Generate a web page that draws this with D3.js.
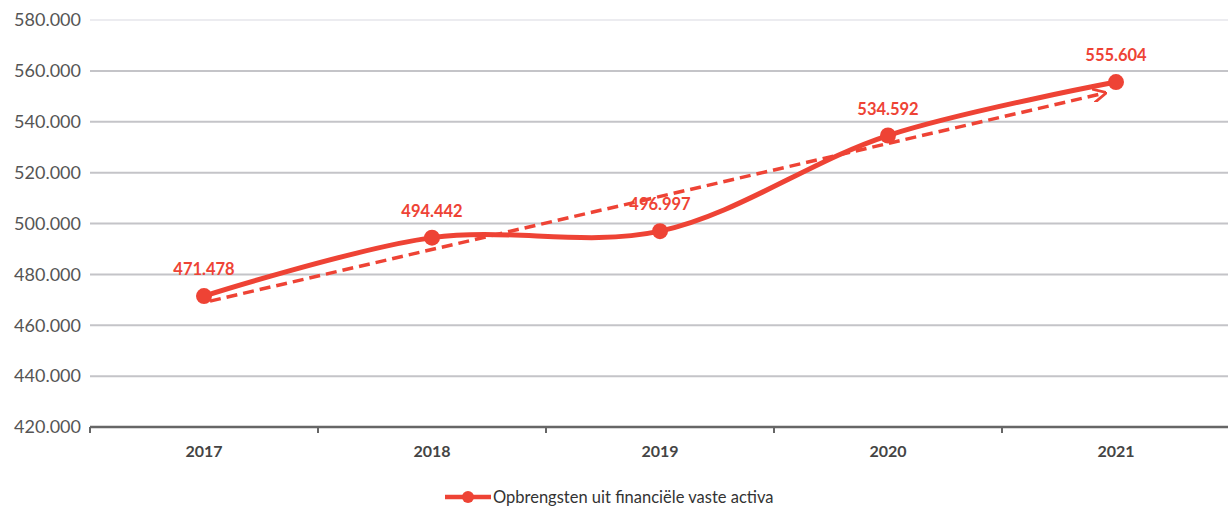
<!DOCTYPE html>
<html>
<head>
<meta charset="utf-8">
<script src="https://cdn.jsdelivr.net/npm/d3@7"></script>
<style>
  body { margin:0; background:#fff; }
  text { font-family: Lato, "Noto Sans", sans-serif; }
</style>
</head>
<body>
<div id="vis"></div>
<script>
(function run(){

  var years = ["2017", "2018", "2019", "2020", "2021"];
  var values = [471478, 494442, 496997, 534592, 555604];
  var labels = ["471.478", "494.442", "496.997", "534.592", "555.604"];
  var yTicks = [420000, 440000, 460000, 480000, 500000, 520000, 540000, 560000, 580000];
  var seriesName = "Opbrengsten uit financiële vaste activa";

  var margin = { top: 20, right: 0, bottom: 83, left: 90 };
  var width = 1228 - margin.left - margin.right;
  var height = 510 - margin.top - margin.bottom;

  var red = "#ee4335";

  var svg = d3.select("#vis")
    .append("svg")
      .attr("width", 1228)
      .attr("height", 510);

  var g = svg.append("g")
    .attr("transform", "translate(" + margin.left + "," + margin.top + ")");

  var x = d3.scaleBand()
    .domain(years)
    .range([0, 5 * 228]);

  var y = d3.scaleLinear()
    .domain([420000, 580000])
    .range([height, 0]);

  var fmt = function(d) { return d3.format(",.0f")(d / 1000).replace(/,/g, ".") + ".000"; };

  // gridlines
  g.selectAll(".grid")
    .data(yTicks.slice(1))
    .enter()
    .append("line")
      .attr("class", "grid")
      .attr("x1", 0)
      .attr("x2", width)
      .attr("y1", function(d) { return y(d); })
      .attr("y2", function(d) { return y(d); })
      .attr("stroke", function(d) { return d == 580000 ? "#ececf0" : "#c4c4c8"; })
      .attr("stroke-width", 2);

  // y axis labels
  var yAxis = d3.axisLeft(y)
    .tickValues(yTicks)
    .tickFormat(fmt)
    .tickSize(0)
    .tickPadding(9);

  g.append("g")
    .attr("class", "y axis")
    .call(yAxis)
    .call(function(s) { s.select(".domain").remove(); })
    .selectAll("text")
      .style("font-size", "18px")
      .attr("fill", "#555");

  // x axis
  var xAxis = d3.axisBottom(x)
    .tickSize(0)
    .tickPadding(19);

  var xg = g.append("g")
    .attr("class", "x axis")
    .attr("transform", "translate(0," + height + ")")
    .call(xAxis);
  xg.select(".domain").remove();
  xg.selectAll("text")
    .style("font-size", "16px")
    .style("font-weight", "bold")
    .attr("fill", "#444");

  xg.append("line")
    .attr("x1", 0).attr("x2", width)
    .attr("stroke", "#666").attr("stroke-width", 2.5);

  xg.selectAll(".tk")
    .data(d3.range(0, 6))
    .enter()
    .append("line")
      .attr("class", "tk")
      .attr("x1", function(d) { return d * x.step(); })
      .attr("x2", function(d) { return d * x.step(); })
      .attr("y1", 0).attr("y2", 6)
      .attr("stroke", "#666").attr("stroke-width", 2);

  var cx = function(i) { return x(years[i]) + x.bandwidth() / 2; };

  // linear trendline
  var reg = d3.range(years.length).map(function(i) { return [i, values[i]]; });
  var mx = d3.mean(reg, function(d) { return d[0]; });
  var my = d3.mean(reg, function(d) { return d[1]; });
  var slope = d3.sum(reg, function(d) { return (d[0] - mx) * (d[1] - my); }) /
              d3.sum(reg, function(d) { return (d[0] - mx) * (d[0] - mx); });
  var b = my - slope * mx;

  svg.append("defs").append("marker")
    .attr("id", "arr")
    .attr("viewBox", "0 0 10 10")
    .attr("refX", 8).attr("refY", 5)
    .attr("markerWidth", 4).attr("markerHeight", 4)
    .attr("orient", "auto")
    .append("path")
      .attr("d", "M0,0 L10,5 L0,10")
      .attr("fill", "none")
      .attr("stroke", red)
      .attr("stroke-width", 2);

  var x0 = cx(0) + 6, x1 = cx(4) - 12;
  var t0 = (x0 - cx(0)) / x.step(), t1 = 4 + (x1 - cx(4)) / x.step();

  g.append("line")
    .attr("x1", x0).attr("y1", y(b + slope * t0))
    .attr("x2", x1).attr("y2", y(b + slope * t1))
    .attr("stroke", red)
    .attr("stroke-width", 3.5)
    .attr("stroke-dasharray", "11,6")
    .attr("marker-end", "url(#arr)");

  // smoothed line
  var line = d3.line()
    .x(function(d, i) { return cx(i); })
    .y(function(d) { return y(d); })
    .curve(d3.curveCatmullRom.alpha(0.5));

  g.append("path")
    .datum(values)
    .attr("fill", "none")
    .attr("stroke", red)
    .attr("stroke-width", 5)
    .attr("d", line);

  g.selectAll(".dot")
    .data(values)
    .enter()
    .append("circle")
      .attr("class", "dot")
      .attr("cx", function(d, i) { return cx(i); })
      .attr("cy", function(d) { return y(d); })
      .attr("r", 8)
      .attr("fill", red);

  g.selectAll(".lbl")
    .data(values)
    .enter()
    .append("text")
      .attr("class", "lbl")
      .attr("x", function(d, i) { return cx(i); })
      .attr("y", function(d) { return y(d) - 21; })
      .attr("text-anchor", "middle")
      .style("font-size", "16.5px")
      .style("font-weight", "bold")
      .attr("fill", red)
      .text(function(d, i) { return labels[i]; });

  // legend
  var lg = svg.append("g").attr("transform", "translate(445,497)");
  lg.append("line")
    .attr("x1", 0).attr("x2", 46)
    .attr("stroke", red).attr("stroke-width", 4.5);
  lg.append("circle")
    .attr("cx", 23).attr("r", 6).attr("fill", red);
  lg.append("text")
    .attr("x", 48).attr("dy", "0.35em")
    .style("font-size", "16.5px")
    .attr("fill", "#333")
    .text(seriesName);

})();
</script>
</body>
</html>
